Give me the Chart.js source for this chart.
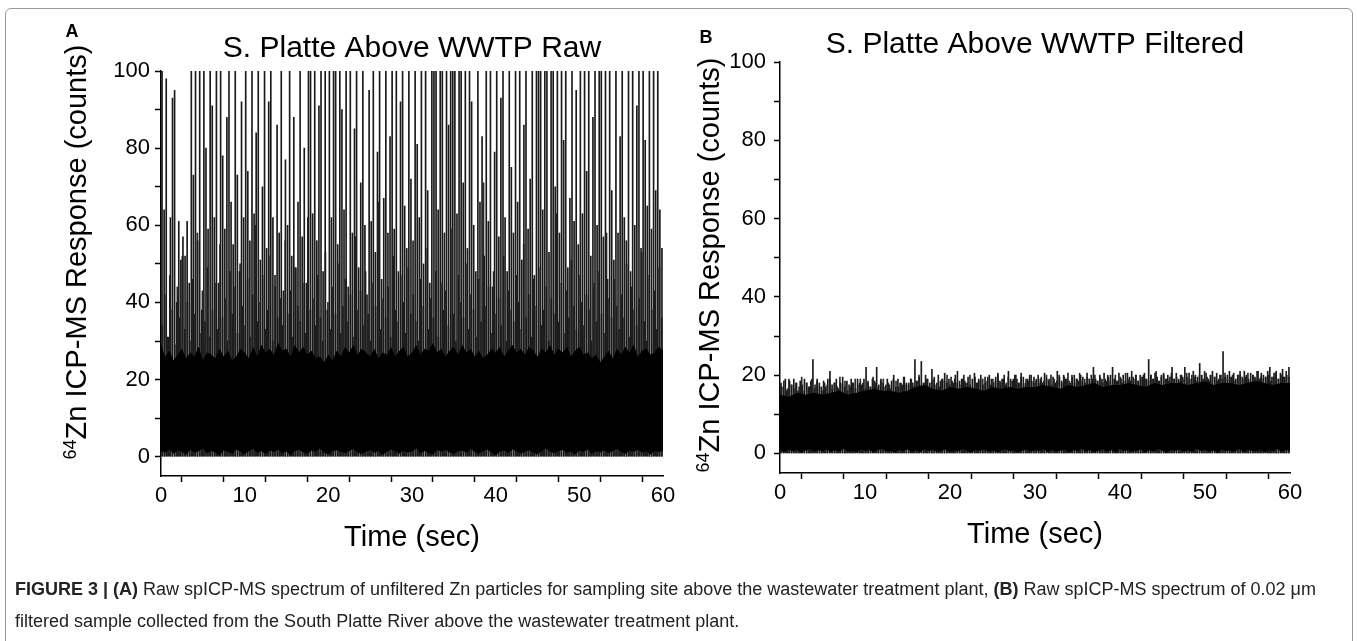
<!DOCTYPE html>
<html>
<head>
<meta charset="utf-8">
<title>S. Platte Above WWTP – spICP-MS</title>
<script src="https://cdn.jsdelivr.net/npm/chart.js@4.4.1/dist/chart.umd.min.js"></script>
<style>
  html, body { margin: 0; padding: 0; background: #fff; }
  #figure { position: relative; width: 1357px; height: 641px; overflow: hidden; font-family: 'Liberation Sans', Arial, sans-serif; color: #000; }
  .frame { position: absolute; left: 5px; top: 8px; width: 1346px; height: 700px; border: 1px solid #9a9a9a; border-radius: 6px; }
  canvas { position: absolute; top: 0; }
  .panel-letter { position: absolute; font-weight: bold; font-size: 18px; transform: translate(-50%, -50%); }
  .y-title { position: absolute; font-size: 29px; white-space: nowrap; transform: translate(-50%, -50%) rotate(-90deg); }
  .y-title sup { font-size: 0.62em; vertical-align: 0.55em; }
  .caption { position: absolute; left: 15px; top: 573px; margin: 0; font-size: 18px; line-height: 32px; color: #222; white-space: nowrap; }
</style>
</head>
<body>
<div id="figure">
  <div class="frame"></div>
  <canvas id="chart-a" width="680" height="580" style="left:0"></canvas>
  <canvas id="chart-b" width="677" height="580" style="left:680px"></canvas>

  <div class="panel-letter" style="left:72px;top:31px">A</div>
  <div class="panel-letter" style="left:706px;top:37px">B</div>
  <div class="y-title" style="left:76px;top:252px"><sup>64</sup>Zn ICP-MS Response (counts)</div>
  <div class="y-title" style="left:709px;top:265px"><sup>64</sup>Zn ICP-MS Response (counts)</div>

  <p class="caption"><b>FIGURE 3 | (A)</b> Raw spICP-MS spectrum of unfiltered Zn particles for sampling site above the wastewater treatment plant, <b>(B)</b> Raw spICP-MS spectrum of 0.02 μm<br>filtered sample collected from the South Platte River above the wastewater treatment plant.</p>
</div>

<script>
// Axis ticks (labels every 10 s / 20 counts, minor marks in between)
const xTicks = [0, 5, 10, 15, 20, 25, 30, 35, 40, 45, 50, 55, 60];
const yTicks = [0, 10, 20, 30, 40, 50, 60, 70, 80, 90, 100];

// Panel A (raw): tall spikes, one per 0.25 s bin (100 = off scale)
const peaksA = [
  100, 64, 98, 31, 62, 93, 95, 40, 61, 51,
  57, 52, 61, 45, 100, 73, 100, 56, 100, 38,
  100, 80, 59, 100, 91, 62, 100, 45, 100, 78,
  59, 88, 100, 66, 55, 100, 73, 48, 92, 62,
  100, 74, 56, 100, 63, 84, 100, 51, 70, 100,
  54, 92, 100, 62, 47, 86, 58, 100, 43, 77,
  60, 100, 52, 88, 49, 66, 100, 57, 80, 45,
  100, 100, 63, 100, 56, 91, 100, 48, 100, 38,
  100, 62, 100, 100, 55, 100, 90, 64, 100, 44,
  100, 58, 85, 100, 49, 71, 100, 60, 42, 95,
  61, 100, 53, 79, 100, 46, 67, 100, 58, 83,
  100, 59, 100, 48, 92, 100, 65, 54, 100, 72,
  56, 100, 81, 62, 100, 50, 100, 69, 45, 100,
  100, 100, 64, 100, 100, 58, 100, 86, 100, 100,
  100, 63, 100, 100, 71, 100, 54, 100, 92, 60,
  48, 100, 66, 83, 52, 100, 61, 100, 44, 79,
  100, 57, 93, 100, 62, 48, 100, 75, 58, 100,
  66, 100, 51, 86, 100, 59, 72, 100, 47, 100,
  100, 100, 64, 100, 100, 53, 100, 100, 70, 100,
  58, 100, 82, 100, 49, 67, 100, 61, 95, 55,
  100, 63, 100, 74, 100, 52, 88, 100, 60, 100,
  100, 57, 100, 46, 100, 69, 51, 100, 58, 83,
  100, 62, 56, 100, 48, 100, 60, 91, 100, 54,
  100, 82, 65, 100, 59, 100, 69, 100, 64, 54
];
// Panel A: shorter spikes filling the 30-60 zone, one per 0.3 s
const shoulderA = [
  34, 42, 31, 47, 38, 29, 44, 36, 52, 33,
  40, 30, 46, 37, 58, 32, 43, 35, 49, 31,
  38, 45, 33, 55, 36, 41, 30, 48, 37, 44,
  32, 50, 39, 34, 46, 31, 42, 60, 35, 40,
  47, 33, 38, 52, 30, 44, 36, 41, 34, 56,
  37, 43, 31, 49, 39, 35, 45, 32, 62, 38,
  41, 34, 47, 36, 30, 53, 40, 33, 44, 37,
  50, 32, 39, 46, 35, 42, 31, 57, 38, 43,
  34, 48, 37, 30, 45, 39, 66, 33, 41, 36,
  44, 31, 52, 38, 35, 47, 40, 32, 49, 37,
  42, 35, 30, 46, 39, 54, 33, 41, 36, 48,
  31, 45, 38, 43, 34, 59, 37, 30, 47, 40,
  36, 50, 33, 42, 38, 31, 46, 35, 71, 39,
  44, 32, 48, 37, 41, 34, 52, 30, 43, 38,
  35, 47, 40, 33, 55, 36, 42, 31, 46, 39,
  49, 34, 38, 44, 30, 41, 37, 63, 35, 45,
  32, 43, 36, 51, 39, 33, 47, 40, 34, 42,
  38, 30, 45, 35, 48, 37, 32, 58, 41, 36,
  46, 39, 33, 42, 36, 50, 31, 44, 38, 34,
  41, 53, 35, 30, 47, 38, 43, 33, 49, 36
];
// Panel A: top of the solid black background band, one value per half second
const bandTopA = [
  29, 26, 27.5, 25, 26.5, 28, 25.5, 27, 26, 28.5, 25, 27, 26.5, 25.5, 28, 26, 27.5, 25, 26, 28,
  27, 25.5, 28.5, 26, 29, 27, 28, 26.5, 29.5, 27.5, 28, 26, 29, 27, 28.5, 26.5, 27.5, 25.5, 26, 24.5,
  26.5, 25, 27.5, 26, 28.5, 27, 29, 26.5, 28, 27, 26, 28, 25.5, 27, 26.5, 28.5, 26, 27.5, 28.5, 26,
  27, 29, 26.5, 28, 27.5, 29.5, 27, 28, 26, 27.5, 28.5, 26.5, 29, 27, 28, 26, 27.5, 25.5, 26.5, 28,
  27, 28.5, 26, 27.5, 29, 27, 28, 26.5, 28.5, 27.5, 26, 28, 27, 29, 26.5, 28, 27, 28.5, 26, 27.5,
  28.5, 26.5, 27, 25.5, 26.5, 24.5, 26, 27.5, 25.5, 28, 26.5, 28.5, 27, 29, 26, 27.5, 28, 26.5, 27, 28.5, 27.5
];
// Panel A: lower edge of the band, one value per half second
const lowA = [
  1.5, 1, 2, 0.8, 1.6, 1.2, 0.5, 1.8, 1, 1.4, 2.2, 0.9, 1.5, 1.1, 0.3, 1.7, 1.2, 0.8, 1.9, 1.3,
  0.6, 1.5, 2, 1, 1.4, 0.7, 1.6, 1.2, 1.9, 0.9, 1.3, 0.4, 1.5, 1.8, 1.1, 0.8, 1.6, 1.3, 2.1, 1,
  0.6, 1.4, 1.7, 1.2, 0.9, 1.5, 2, 1.1, 0.7, 1.3, 1.8, 1, 1.5, 0.5, 1.2, 1.9, 1.4, 0.8, 1.6, 1.1,
  1.3, 2.2, 0.9, 1.5, 1, 0.6, 1.7, 1.3, 1.9, 1.1, 0.8, 1.4, 1.6, 1, 2, 1.2, 0.7, 1.5, 1.8, 1.1,
  0.4, 1.3, 1.6, 1, 1.9, 1.4, 0.8, 1.2, 1.7, 1.1, 0.6, 1.5, 2.1, 1.2, 0.9, 1.4, 1.8, 1, 1.3, 0.5,
  1.6, 1.2, 1.9, 0.8, 1.4, 1.1, 1.7, 0.9, 1.5, 2, 1.2, 0.7, 1.6, 1.3, 1.8, 1, 1.4, 0.6, 1.5, 1.2, 1.6
];

// Panel B (filtered): fringe peaks, one per 0.25 s bin
const peaksB = [
  18, 17, 19, 16.5, 18.5, 17.5, 19, 18, 16, 18.5,
  17.5, 19, 18, 17, 18.5, 24, 17.5, 19, 18, 17,
  18.5, 17, 19, 21, 17.5, 18, 19, 16.5, 18, 19.5,
  17, 18.5, 17.5, 19, 18, 16.5, 19, 18, 17.5, 19,
  22, 18, 17, 19, 18.5, 22, 17.5, 19, 18, 17,
  19, 17.5, 18.5, 20, 17, 19, 18, 17.5, 19.5, 18,
  17.5, 19, 18, 24, 18.5, 19.5, 23.5, 18, 20, 19,
  18, 21.5, 19, 17.5, 20, 18.5, 19, 20.5, 18, 19,
  19.5, 18, 20, 21, 18.5, 19, 20, 18, 19.5, 17.5,
  19, 20.5, 18, 19, 20, 17.5, 19.5, 18.5, 20, 19,
  18, 19.5, 20.5, 18.5, 19, 20, 18, 21, 19, 18.5,
  20, 19, 18, 20.5, 19.5, 18, 19, 20, 18.5, 19.5,
  18.5, 20, 19, 18, 20.5, 19, 18.5, 20, 19.5, 18,
  21, 19.5, 18.5, 20, 19, 20.5, 18, 19.5, 20, 19,
  18.5, 20, 19.5, 18, 20.5, 19, 20, 22, 19, 18.5,
  20, 19, 20.5, 18.5, 19.5, 20, 22, 19, 18.5, 20.5,
  19, 20, 18.5, 20.5, 19.5, 21, 19, 20, 18.5, 20,
  19.5, 20.5, 19, 24, 20, 19, 20.5, 19.5, 18.5, 20,
  20.5, 19, 20, 19.5, 22, 19, 20.5, 19, 20, 19.5,
  22, 19.5, 20.5, 19, 21, 20, 19.5, 23, 20, 19,
  20.5, 19, 20, 21, 19.5, 20.5, 19, 20, 26, 19.5,
  20, 21, 19.5, 20.5, 19, 20, 21, 19.5, 21, 20,
  19, 20.5, 20, 19.5, 21, 19, 20.5, 20, 19.5, 21,
  22, 19.5, 20.5, 21, 19, 20.5, 21.5, 19.5, 20, 22
];
// Panel B: extra fringe peaks, one per 0.3 s
const shoulderB = [
  17, 18.5, 16, 19, 17.5, 16.5, 18, 17, 19.5, 16,
  18, 17, 19, 16.5, 18.5, 17, 16, 18, 17.5, 19,
  16.5, 18, 17, 19.5, 17.5, 18.5, 16, 17, 18, 19,
  17.5, 19, 18, 16.5, 18.5, 17, 19.5, 18, 17, 18.5,
  19, 17.5, 18, 16.5, 19, 18.5, 17, 18, 19.5, 17.5,
  18, 19, 17, 18.5, 20, 17.5, 18, 19, 17, 18.5,
  19.5, 18, 17, 19, 18.5, 20, 17.5, 18.5, 19, 18,
  17.5, 19, 18.5, 18, 20, 17, 19.5, 18, 18.5, 19,
  18, 19.5, 17.5, 19, 18.5, 20, 18, 19, 17.5, 19.5,
  18.5, 19, 20, 18, 19.5, 17.5, 19, 18.5, 20, 18,
  19, 18, 19.5, 18.5, 20, 19, 17.5, 19, 18.5, 20,
  18, 19.5, 19, 18.5, 20, 18, 19, 20.5, 18.5, 19,
  19.5, 18, 19, 20, 18.5, 19.5, 18, 19, 20, 18.5,
  19, 20, 18.5, 19.5, 18, 20.5, 19, 18.5, 19.5, 20,
  18.5, 19.5, 20, 19, 18.5, 20, 19, 21, 18.5, 19.5,
  20, 19, 18.5, 20.5, 19, 19.5, 18.5, 20, 19, 20.5,
  19, 20, 19.5, 18.5, 20, 19, 21, 19.5, 18.5, 20,
  19.5, 18.5, 20, 19, 20.5, 19, 19.5, 20, 18.5, 20,
  20, 19, 19.5, 20.5, 18.5, 20, 19, 21, 19.5, 19,
  19.5, 20, 18.5, 19.5, 20.5, 19, 20, 19.5, 21, 19.5
];
// Panel B: top of the solid band, one value per second
const bandTopB = [
  15, 14.5, 15.5, 15, 15.5, 15, 15.5, 16, 15, 15.5,
  16, 16.5, 16, 16, 15.5, 16, 17, 17.5, 16.5, 16,
  17, 16.5, 17, 16.5, 16, 17, 16.5, 17, 16.5, 17,
  17, 17.5, 17, 16.5, 17.5, 17, 17.5, 18, 17, 17.5,
  17.5, 18, 17.5, 17, 18, 17.5, 18, 18, 17.5, 18,
  18.5, 17.5, 18, 18, 17.5, 18, 18.5, 18, 17.5, 18, 18
];
// Panel B: lower edge of the band, one value per half second
const lowB = [
  0.8, 0.3, 1, 0.5, 0.9, 0.2, 0.7, 1.1, 0.4, 0.8, 0.6, 1, 0.3, 0.9, 0.5, 1.2, 0.4, 0.7, 0.2, 1,
  0.6, 0.9, 0.3, 0.8, 1.1, 0.5, 0.7, 0.2, 0.9, 0.6, 1, 0.4, 0.8, 0.3, 1.1, 0.6, 0.9, 0.4, 0.7, 1,
  0.3, 0.8, 0.5, 1.2, 0.6, 0.2, 0.9, 0.7, 1, 0.4, 0.8, 0.3, 0.6, 1.1, 0.5, 0.9, 0.2, 0.7, 1, 0.4,
  0.8, 0.6, 1.1, 0.3, 0.9, 0.5, 0.7, 1, 0.2, 0.8, 0.6, 1.2, 0.4, 0.9, 0.3, 0.7, 1, 0.5, 0.8, 0.2,
  1.1, 0.6, 0.9, 0.4, 0.7, 1, 0.3, 0.8, 0.5, 1.1, 0.6, 0.2, 0.9, 0.7, 1, 0.4, 0.8, 0.3, 1.2, 0.6,
  0.9, 0.5, 0.7, 0.2, 1, 0.6, 0.8, 0.4, 1.1, 0.3, 0.9, 0.7, 0.5, 1, 0.2, 0.8, 0.6, 1.1, 0.4, 0.9, 0.7
];

const FONT = "'Liberation Sans', Arial, sans-serif";
const RUN_SECONDS = 60;

/**
 * Spread an envelope evenly over the acquisition window (0-60 s)
 */
function envelope(values) {
  return values.map((v, i) => ({ x: i * RUN_SECONDS / (values.length - 1), y: v }));
}

/**
 * Place each bin's peak at the centre of its time bin
 */
function bins(values) {
  return values.map((v, i) => ({ x: (i + 0.5) * RUN_SECONDS / values.length, y: v }));
}

/**
 * Build the chart config for one panel
 * @param {Object} p - panel data and layout numbers
 */
function panelConfig(p) {
  const tickFont = { family: FONT, size: 22 };
  const axisLine = { color: '#000', width: 1.5 };
  const tickGrid = { drawOnChartArea: false, drawTicks: true, tickLength: 6, tickWidth: 1.5, tickColor: '#000' };
  const area = { type: 'line', borderColor: 'transparent', borderWidth: 0, pointRadius: 0 };

  return {
    type: 'bar',
    data: {
      datasets: [
        { ...area, data: envelope(p.low), fill: false },
        { ...area, data: envelope(p.top), fill: '-1', backgroundColor: '#000' },
        { type: 'bar', data: bins(p.peaks), backgroundColor: '#1a1a1a', barThickness: 1, grouped: false },
        { type: 'bar', data: bins(p.shoulder), backgroundColor: '#2a2a2a', barThickness: 1, grouped: false }
      ]
    },
    options: {
      responsive: false,
      animation: false,
      devicePixelRatio: 1,
      events: [],
      layout: { padding: { left: 0, top: 0, right: p.padRight, bottom: p.padBottom } },
      plugins: {
        legend: { display: false },
        tooltip: { enabled: false },
        title: {
          display: true,
          text: p.title,
          fullSize: false,
          color: '#000',
          font: { family: FONT, size: 30, weight: 'normal', lineHeight: 1 },
          padding: { top: p.titleTop, bottom: p.titleBottom }
        }
      },
      scales: {
        x: {
          type: 'linear',
          min: 0,
          max: RUN_SECONDS,
          offset: false,
          afterBuildTicks: axis => { axis.ticks = xTicks.map(v => ({ value: v })); },
          afterFit: scale => { scale.height = 80; },
          ticks: { autoSkip: false, maxRotation: 0, padding: 1, color: '#000', font: tickFont,
                   callback: v => (v % 10 === 0 ? v : '') },
          grid: tickGrid,
          border: axisLine,
          title: { display: true, text: 'Time (sec)', color: '#000',
                   font: { family: FONT, size: 29 }, padding: { top: 0, bottom: 1 } }
        },
        y: {
          min: -5,
          max: 100,
          afterBuildTicks: axis => { axis.ticks = yTicks.map(v => ({ value: v })); },
          afterFit: scale => { scale.width = p.yAxisWidth; },
          ticks: { autoSkip: false, padding: p.yTickPad, color: '#000', font: tickFont,
                   callback: v => (v % 20 === 0 ? v : '') },
          grid: tickGrid,
          border: axisLine
        }
      }
    }
  };
}

new Chart(document.getElementById('chart-a'), panelConfig({
  title: 'S. Platte Above WWTP Raw',
  peaks: peaksA, shoulder: shoulderA, top: bandTopA, low: lowA,
  yAxisWidth: 161, yTickPad: 5, padRight: 17, padBottom: 24,
  titleTop: 34, titleBottom: 7
}));

new Chart(document.getElementById('chart-b'), panelConfig({
  title: 'S. Platte Above WWTP Filtered',
  peaks: peaksB, shoulder: shoulderB, top: bandTopB, low: lowB,
  yAxisWidth: 100, yTickPad: 8, padRight: 67, padBottom: 27,
  titleTop: 30, titleBottom: 2
}));
</script>
</body>
</html>
